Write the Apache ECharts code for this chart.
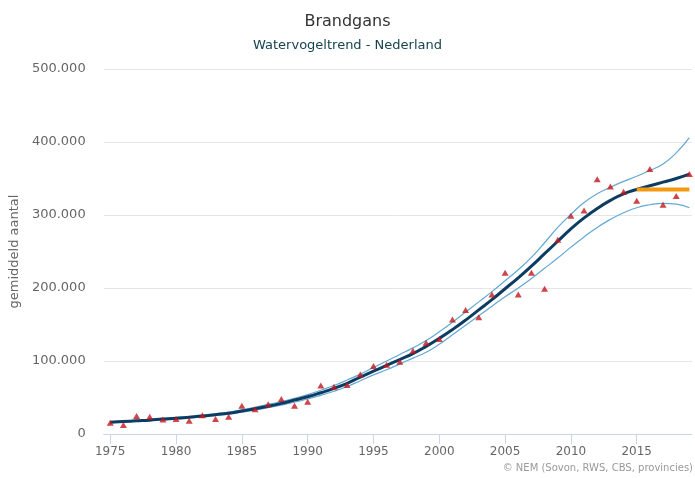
<!DOCTYPE html>
<html>
<head>
<meta charset="utf-8">
<script src="https://cdn.jsdelivr.net/npm/echarts@6/dist/echarts.min.js"></script>
<style>html,body{margin:0;padding:0;background:#fff;}#c{width:695px;height:478px;}</style>
</head>
<body>
<div id="c"></div>
<script>
const years = [1975,1976,1977,1978,1979,1980,1981,1982,1983,1984,1985,1986,1987,1988,1989,1990,1991,1992,1993,1994,1995,1996,1997,1998,1999,2000,2001,2002,2003,2004,2005,2006,2007,2008,2009,2010,2011,2012,2013,2014,2015,2016,2017,2018,2019];
const trend = [16,17,18,19,20.5,21.5,23,24.5,26.5,28.5,31.5,34.5,38,42,46.5,51,56.5,62.5,69.5,78,86,94,102,110,120,131,143,156,170,184,199,214,230,247,264,281,296,309,320,329,335,340,345,350,356];
const upper = [17,18,19,20,21.5,22.5,24,25.5,27.5,30,33,36.5,40.5,44.5,49,54,60,66.5,74,82,91,100,109,118,128,140,153,167,181,195,210,225,242,262,283,301,317,329,338,346,353,361,370,385,406];
const lower = [15.5,16.5,17.5,18.5,19.5,20.5,22,23.5,25.5,27.5,30,33,36,39.5,43.5,48,53,58.5,65,73,81,88,96,104,112,123,136,149,162,175,188,200,213,227,241,256,270,283,294,303,310,314,316,315,310];
const counts = [15.5,12.3,24.6,23.7,20,20.5,18.2,25.6,20.5,23.7,38.7,33.8,40.6,47.9,38.7,44.2,66.6,64.7,67,81.6,93,94.7,98.9,114,125,130,157,170,160,191,221,191,221,199,266,299,306,349,339,332,319.5,363,314,326,356];
const recentYears = [2015,2019];
const recentLevel = [335,335];
const xTicks = [1975,1980,1985,1990,1995,2000,2005,2010,2015];

const pair = (xs, vs) => xs.map((x,i)=>[x, vs[i]*1000]);
const fmt = v => String(Math.round(v)).replace(/\B(?=(\d{3})+(?!\d))/g, '.');

const chart = echarts.init(document.getElementById('c'), null, {renderer:'canvas'});
chart.setOption({
  animation:false,
  backgroundColor:'#fff',
  textStyle:{fontFamily:'DejaVu Sans'},
  title:{
    text:'Brandgans', subtext:'Watervogeltrend - Nederland',
    left:'center', top:9, itemGap:9,
    textStyle:{fontSize:16, fontWeight:'normal', color:'#333', fontFamily:'DejaVu Sans'},
    subtextStyle:{fontSize:13, color:'#17424f', fontFamily:'DejaVu Sans'}
  },
  grid:{left:103, right:3, top:69, bottom:44, containLabel:false},
  xAxis:{
    type:'value', min:1974.5, max:2019.2,
    axisLine:{show:true, lineStyle:{color:'#ccd6eb', width:1}},
    axisTick:{show:true, length:10, lineStyle:{color:'#ccd6eb'}, customValues:xTicks},
    axisLabel:{color:'#666', fontSize:12, margin:12, customValues:xTicks, formatter:v=>String(v)},
    splitLine:{show:false}
  },
  yAxis:{
    type:'value', min:0, max:500000, interval:100000,
    name:'gemiddeld aantal', nameLocation:'middle', nameGap:77, nameRotate:90,
    nameTextStyle:{color:'#666', fontSize:13},
    axisLine:{show:false}, axisTick:{show:false},
    axisLabel:{color:'#666', fontSize:13, margin:18, formatter:v=>fmt(v)},
    splitLine:{lineStyle:{color:'#e6e6e6', width:1}}
  },
  series:[
    {type:'line', data:pair(years, upper), smooth:true, symbol:'none', lineStyle:{color:'#64a8d2', width:1.2}, z:2},
    {type:'line', data:pair(years, lower), smooth:true, symbol:'none', lineStyle:{color:'#64a8d2', width:1.2}, z:2},
    {type:'line', data:pair(years, trend), smooth:true, symbol:'none', lineStyle:{color:'#0c3c62', width:3}, z:3},
    {type:'line', data:pair(recentYears, recentLevel), symbol:'none', lineStyle:{color:'#f39a12', width:4}, z:4},
    {type:'scatter', data:pair(years, counts), symbol:'triangle', symbolSize:[7,6], itemStyle:{color:'#c2161d'}, z:5}
  ],
  graphic:[
    {type:'text', right:2, bottom:5, style:{text:'© NEM (Sovon, RWS, CBS, provincies)', fill:'#999', font:'10px DejaVu Sans'}}
  ]
});
</script>
</body>
</html>
